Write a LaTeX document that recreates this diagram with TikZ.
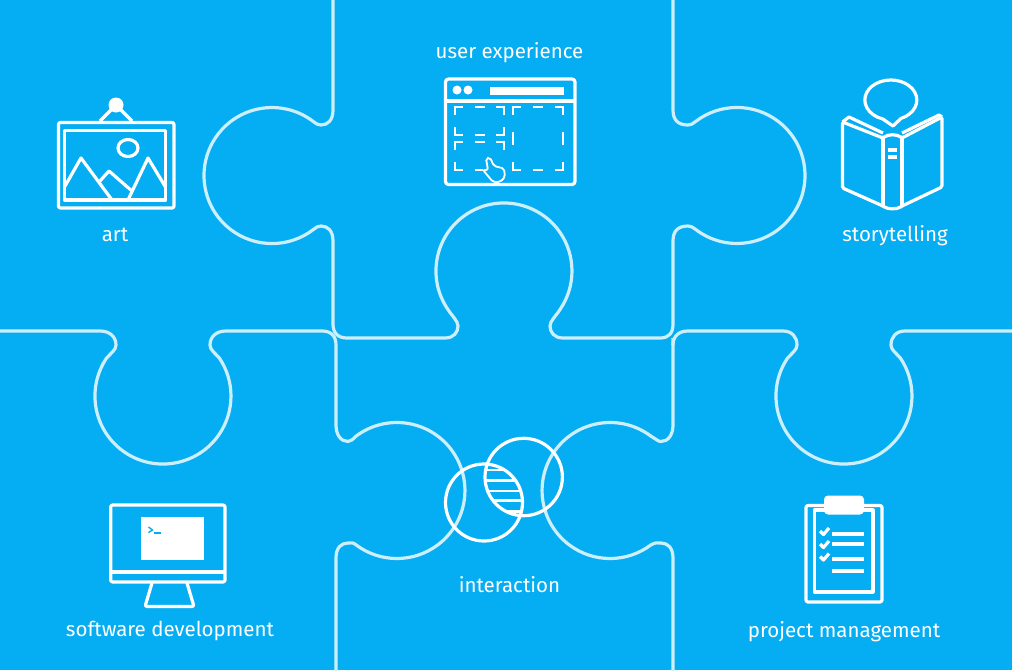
\documentclass[tikz,border=0pt]{standalone}
\usepackage{fontspec}
\setmainfont{Fira Sans}
\usetikzlibrary{positioning}
\definecolor{skyblue}{HTML}{05ADF2}
\definecolor{edgeblue}{HTML}{CDEEFB}
\tikzset{
  edgeline/.style={edgeblue, line width=3.2pt, line join=round},
  iconline/.style={white, line width=3.2pt, line join=round},
  thinline/.style={white, line width=2.5pt},
  caption/.style={white, font=\fontsize{20.5}{24}\selectfont, inner sep=0pt, anchor=base}
}
\begin{document}
\begin{tikzpicture}[x=1pt, y=-1pt]
  \useasboundingbox (0,0) rectangle (1012,670);
  \fill[skyblue] (0,0) rectangle (1012,670);

  % top piece
  \draw[edgeline] (333,-5) -- (333,110) .. controls (333,120) and (328,125) .. (321,125)
    .. controls (318,125) and (316,123.7) .. (313.4,121.6)
    arc[start angle=52.5, end angle=307.5, radius=68pt]
    .. controls (316,227.3) and (318,226) .. (321,226)
    .. controls (328,226) and (333,231) .. (333,241) -- (333,324)
    .. controls (333,333) and (338,338) .. (347,338) -- (445,338)
    .. controls (454,338) and (458,332) .. (458,326)
    .. controls (458,321) and (452,316) .. (447.6,309)
    arc[start angle=214, end angle=-34, radius=68pt]
    .. controls (556,316) and (550,321) .. (550,326)
    .. controls (550,332) and (554,338) .. (563,338) -- (660,338)
    .. controls (669,338) and (673,333) .. (673,324) -- (673,241)
    .. controls (673,231) and (678,226) .. (688,226)
    .. controls (691,226) and (693,227.3) .. (695.6,229.4)
    arc[start angle=232.5, end angle=487.5, radius=68pt]
    .. controls (693,123.7) and (691,125) .. (688,125)
    .. controls (678,125) and (673,120) .. (673,110) -- (673,-5);

  % lower left piece
  \draw[edgeline] (-5,331) -- (100,331) .. controls (110,331) and (116,337) .. (116,345)
    .. controls (116,350) and (111,353) .. (106.6,358)
    arc[start angle=146, end angle=394, radius=68pt]
    .. controls (215,353) and (210,350) .. (210,345)
    .. controls (210,337) and (216,331) .. (226,331) -- (322,331)
    .. controls (331,331) and (336,336) .. (336,345) -- (336,425)
    .. controls (336,435) and (341,441.5) .. (348,441.5)
    .. controls (351,441.5) and (353,439) .. (356,436.2)
    arc[start angle=127, end angle=-127, radius=68pt]
    .. controls (353,542) and (351,543) .. (348,543)
    .. controls (341,543) and (336,548) .. (336,558) -- (336,675);

  % middle right edge
  \draw[edgeline] (673,338) -- (673,425) .. controls (673,435) and (668,441.5) .. (661,441.5)
    .. controls (658,441.5) and (656,439) .. (651,436.2)
    arc[start angle=53, end angle=307, radius=68pt]
    .. controls (656,542) and (658,543) .. (661,543)
    .. controls (668,543) and (673,548) .. (673,558) -- (673,675);

  % lower right piece
  \draw[edgeline] (673,345) .. controls (673,336) and (679,331) .. (688,331) -- (783,331)
    .. controls (792,331) and (797,337) .. (797,345)
    .. controls (797,350) and (792,353) .. (787.6,358)
    arc[start angle=146, end angle=394, radius=68pt]
    .. controls (896,353) and (891,350) .. (891,345)
    .. controls (891,337) and (896,331) .. (905,331) -- (1017,331);

  % art
  \draw[iconline, rounded corners=2pt] (58.5,122.5) rectangle (174,208);
  \draw[iconline] (64.5,130.5) rectangle (165.5,200);
  \draw[iconline] (64.5,187) -- (81,158) -- (112,200);
  \draw[iconline] (99,182) -- (109,171) -- (132,191);
  \draw[iconline] (128,200) -- (148,158) -- (165.5,187);
  \draw[iconline] (128,148) ellipse (10pt and 8.5pt);
  \draw[iconline] (100,121) -- (116,105) -- (132,121);
  \fill[white] (116,105) circle (7.5pt);

  % user experience
  \draw[iconline, rounded corners=3pt] (445.5,79) rectangle (575,184.5);
  \draw[iconline] (445.5,101) -- (575,101);
  \fill[white] (457,90) circle (4.5pt);
  \fill[white] (468,90) circle (4.5pt);
  \fill[white] (490,87) rectangle (564,95);
  \draw[thinline] (455,115) -- (455,107) -- (463,107);
  \draw[thinline] (475,107) -- (485,107);
  \draw[thinline] (496,107) -- (504,107) -- (504,115);
  \draw[thinline] (455,127) -- (455,135) -- (463,135);
  \draw[thinline] (475,135) -- (485,135);
  \draw[thinline] (496,135) -- (504,135) -- (504,127);
  \draw[thinline] (455,150) -- (455,142) -- (463,142);
  \draw[thinline] (475,142) -- (485,142);
  \draw[thinline] (496,142) -- (504,142) -- (504,150);
  \draw[thinline] (455,162) -- (455,170) -- (463,170);
  \draw[thinline] (475,170) -- (483,170);
  \draw[thinline] (513,115) -- (513,107) -- (521,107);
  \draw[thinline] (533,107) -- (543,107);
  \draw[thinline] (555,107) -- (563,107) -- (563,115);
  \draw[thinline] (513,132) -- (513,145);
  \draw[thinline] (563,132) -- (563,145);
  \draw[thinline] (513,162) -- (513,170) -- (521,170);
  \draw[thinline] (533,170) -- (543,170);
  \draw[thinline] (555,170) -- (563,170) -- (563,162);
  \draw[white, line width=1.8pt, fill=skyblue, rounded corners=2pt] (483,170) -- (488,170) -- (486,158.5)
    -- (490,157.5) -- (494,166) -- (504,168.5) -- (505,177) -- (500,182) -- (493,182) -- cycle;

  % storytelling
  \draw[iconline] (901,118.4) arc[start angle=-67, end angle=252, x radius=26pt, y radius=20pt] -- (893,126) -- cycle;
  \draw[iconline, rounded corners=1.5pt] (842.5,122) -- (842.5,188) -- (883,206) .. controls (888,209.5) and (897,209.5) .. (902,206)
    -- (942,187) -- (942,117) -- (902,138) .. controls (897,134) and (888,134) .. (883,138) -- cycle;
  \draw[iconline] (883,138) -- (883,206);
  \draw[iconline] (902,138) -- (902,206);
  \draw[iconline] (842.5,122) -- (849,117) -- (883,133);
  \draw[iconline] (942,117) -- (939,115) -- (902,133);
  \fill[white] (888,147.5) rectangle (897,151.5);
  \fill[white] (888,155) rectangle (897,159);

  % interaction
  \begin{scope}
    \clip (484,502.5) circle (38.5pt);
    \clip (523.7,477) circle (38.7pt);
    \draw[thinline] (470,470) -- (540,470);
    \draw[thinline] (470,480.5) -- (540,480.5);
    \draw[thinline] (470,491) -- (540,491);
    \draw[thinline] (470,500.5) -- (540,500.5);
    \draw[thinline] (470,511.5) -- (540,511.5);
  \end{scope}
  \draw[iconline] (484,502.5) circle (38.5pt);
  \draw[iconline] (523.7,477) circle (38.7pt);

  % software development
  \draw[iconline, rounded corners=2pt] (110.7,505) rectangle (225,582);
  \draw[iconline] (110.7,572) -- (225,572);
  \fill[white] (141,517) rectangle (204,560);
  \draw[skyblue, line width=1.4pt] (148.5,527) -- (152.5,530) -- (148.5,532.5);
  \draw[skyblue, line width=1.4pt] (153.5,533) -- (161,533);
  \draw[iconline, rounded corners=2pt] (152,583) -- (145,606.5) -- (194,606.5) -- (187,583);

  % project management
  \draw[iconline, rounded corners=2pt] (806,505.5) rectangle (882,602);
  \draw[iconline] (814.5,510) rectangle (873,592);
  \fill[white, rounded corners=4pt] (824,495.5) rectangle (864,514.5);
  \draw[iconline] (820,531) -- (823.5,534.5) -- (829,528);
  \draw[iconline] (820,544) -- (823.5,547.5) -- (829,541);
  \draw[iconline] (820,556.5) -- (823.5,560) -- (829,553.5);
  \fill[white] (832,532) rectangle (864,536);
  \fill[white] (832,542) rectangle (864,546);
  \fill[white] (832,557) rectangle (864,561);
  \fill[white] (832,569) rectangle (864,573);

  \node[caption] (artlabel) at (115,241) {art};
  \node[caption] (uxlabel) at (509.5,58) {user experience};
  \node[caption] (storylabel) at (895,241) {storytelling};
  \node[caption] (interactionlabel) at (509.5,592) {interaction};
  \node[caption] (softwarelabel) at (170,636) {software development};
  \node[caption] (projectlabel) at (844,637) {project management};
\end{tikzpicture}
\end{document}
